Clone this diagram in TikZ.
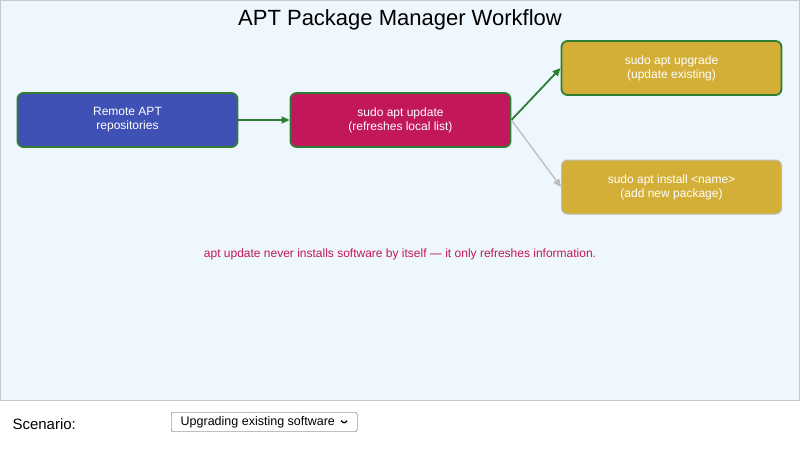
\documentclass[tikz,border=0pt]{standalone}
\usepackage{fontspec}
\setmainfont{Liberation Sans}
\usetikzlibrary{arrows.meta}
\definecolor{bgblue}{HTML}{EEF6FE}
\definecolor{pblue}{HTML}{3F51B5}
\definecolor{pcrim}{HTML}{C2185B}
\definecolor{pgold}{HTML}{D4AF37}
\definecolor{pgreen}{HTML}{2E7D32}
\definecolor{pgrey}{HTML}{BBBBBB}
\begin{document}
\begin{tikzpicture}[x=1pt,y=-1pt,
  box/.style={rounded corners=6pt,draw,align=center,text=white,font=\fontsize{12}{14}\selectfont,minimum width=220pt,minimum height=54pt,inner sep=0pt},
  act/.style={draw=pgreen,line width=1.8pt},
  inact/.style={draw=pgrey,line width=1pt},
  con/.style={-{Triangle[length=8pt,width=7pt]}}]
\useasboundingbox (0,0) rectangle (800,452);
\fill[white] (0,0) rectangle (800,452);
\filldraw[fill=bgblue,draw=pgrey!80] (0.5,0.5) rectangle (799.5,400);
\node (title) at (400,20) {\fontsize{22}{26}\selectfont APT Package Manager Workflow};
\node[box,act,fill=pblue] (remote) at (127.5,120) {Remote APT\\repositories};
\node[box,act,fill=pcrim] (update) at (400.5,120) {sudo apt update\\(refreshes local list)};
\node[box,act,fill=pgold] (upgrade) at (671.5,68) {sudo apt upgrade\\(update existing)};
\node[box,inact,fill=pgold] (install) at (671.5,187) {sudo apt install <name>\\(add new package)};
\draw[con,pgreen,line width=1.8pt] (remote) -- (update);
\draw[con,pgreen,line width=1.8pt] (update.east) -- (upgrade.west);
\draw[con,pgrey,line width=1.2pt] (update.east) -- (install.west);
\node[text=pcrim,font=\fontsize{12}{14}\selectfont] (note) at (400,254) {apt update never installs software by itself — it only refreshes information.};
\node[anchor=west,font=\fontsize{15}{18}\selectfont] (scen) at (9,424) {Scenario:};
\node[draw=black!70,rounded corners=2pt,anchor=west,minimum width=186pt,minimum height=19pt,inner sep=2pt,font=\fontsize{12.5}{14}\selectfont] (sel) at (171,422) {Upgrading existing software \,\raisebox{1pt}{\tikz[x=1pt,y=1pt]\draw[line width=1.2pt](0,3)--(3,0)--(6,3);}};
\end{tikzpicture}
\end{document}
